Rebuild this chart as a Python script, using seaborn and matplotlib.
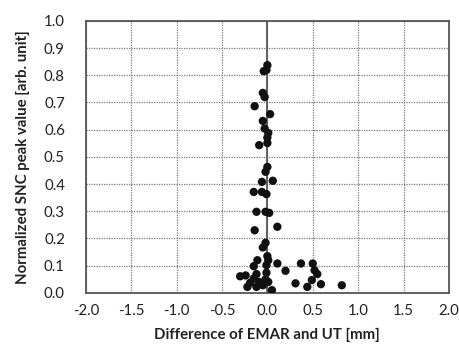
import numpy as np
import pandas as pd
import seaborn as sns
import matplotlib.pyplot as plt

# Werte
diff_mm = [0.00, -0.01, -0.04, -0.05, -0.03, -0.14, 0.03, -0.05, -0.03, 0.01,
           0.00, 0.00, -0.09,
           0.00, -0.02, -0.06, 0.06, -0.15, -0.06, -0.01, -0.12, -0.02, 0.02,
           -0.14, 0.11, -0.02, -0.05, 0.00, -0.11, 0.01, -0.15, -0.01, 0.11,
           0.20, 0.37, 0.50, 0.52, 0.55, -0.30, -0.24, -0.12, -0.01, -0.15,
           -0.02, -0.19, -0.09, 0.01, -0.22, -0.12, -0.05, 0.05, 0.31, 0.44,
           0.49, 0.59, 0.82]
snc_peak = [0.837, 0.819, 0.815, 0.735, 0.720, 0.686, 0.657, 0.632, 0.604, 0.588,
            0.571, 0.551, 0.543,
            0.463, 0.445, 0.408, 0.412, 0.371, 0.371, 0.363, 0.298, 0.298, 0.294,
            0.230, 0.243, 0.184, 0.167, 0.135, 0.120, 0.120, 0.098, 0.102, 0.108,
            0.081, 0.108, 0.108, 0.083, 0.069, 0.061, 0.064, 0.069, 0.074, 0.053,
            0.050, 0.037, 0.040, 0.040, 0.022, 0.022, 0.028, 0.010, 0.035, 0.022,
            0.047, 0.032, 0.028]

x_ticks = np.arange(-2.0, 2.01, 0.5)
y_ticks = np.arange(0.0, 1.01, 0.1)

df = pd.DataFrame({'diff': diff_mm, 'snc': snc_peak})

sns.set_theme(style="white")
plt.rcParams['font.family'] = ['Lato', 'DejaVu Sans']

fig = plt.figure(figsize=(4.59, 3.47), dpi=100)
ax = fig.add_axes([0.187, 0.156, 0.791, 0.784])

ax.set_xlim(-2.0, 2.0)
ax.set_ylim(0.0, 1.0)
ax.set_xticks(x_ticks)
ax.set_yticks(y_ticks)
ax.set_xticklabels([f'{v:.1f}' for v in x_ticks])
ax.set_yticklabels([f'{v:.1f}' for v in y_ticks])

# gepunktetes Gitter
ax.grid(True, color='#7a7a7a', linestyle=(0, (1, 1)), linewidth=0.9)
ax.axvline(0, color='#555555', linewidth=1.3, zorder=2)

sns.scatterplot(data=df, x='diff', y='snc', color='#111111', s=36,
                edgecolor='none', ax=ax, zorder=3, legend=False)

for sp in ax.spines.values():
    sp.set_color('#555555')
    sp.set_linewidth(1.3)

ax.tick_params(axis='x', labelsize=10.8, colors='#222222', length=0, pad=8)
ax.tick_params(axis='y', labelsize=10.8, colors='#222222', length=0, pad=15)
ax.set_xlabel('Difference of EMAR and UT [mm]', fontsize=10.8, fontweight='bold',
              color='#222222', labelpad=7)
ax.set_ylabel('Normalized SNC peak value [arb. unit]', fontsize=10.8,
              fontweight='bold', color='#222222', labelpad=10)

plt.savefig('out.png', dpi=100)
plt.close()
